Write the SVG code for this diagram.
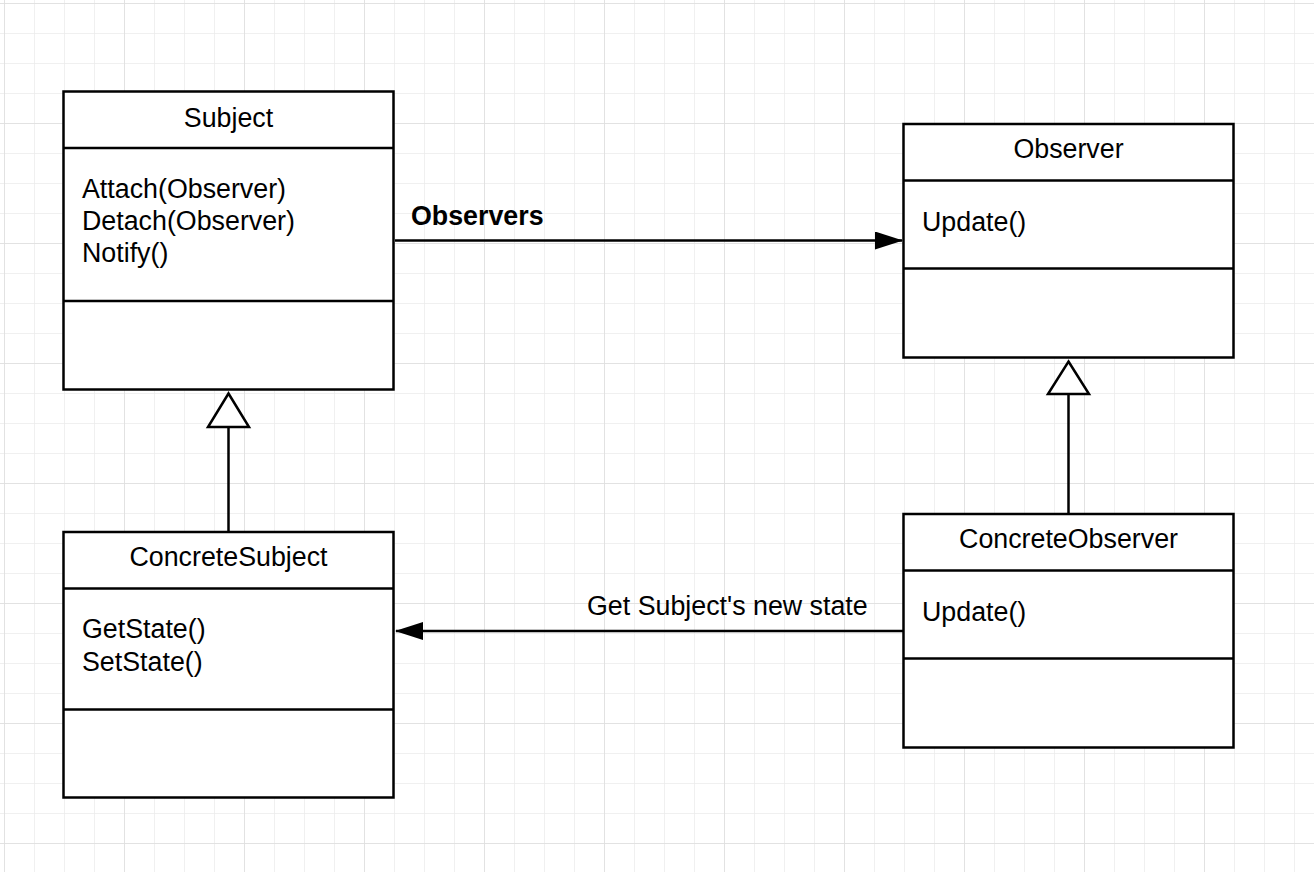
<svg xmlns="http://www.w3.org/2000/svg" width="1314" height="872" viewBox="0 0 1314 872">
<defs>
<pattern id="minor" x="4" y="3" width="30" height="30" patternUnits="userSpaceOnUse">
<path d="M0 0H30M0 0V30" fill="none" stroke="#ebebeb" stroke-width="1.5"/>
</pattern>
<pattern id="major" x="4" y="3" width="120" height="120" patternUnits="userSpaceOnUse">
<path d="M0 0H120M0 0V120" fill="none" stroke="#dedede" stroke-width="1.5"/>
</pattern>
<marker id="filled" viewBox="0 0 28 18" refX="27" refY="9" markerWidth="28" markerHeight="18" markerUnits="userSpaceOnUse" orient="auto">
<path d="M0 0L28 9L0 18Z" fill="#000"/>
</marker>
</defs>
<style>
.box{fill:#fff;stroke:#000;stroke-width:2.5}
.div{stroke:#000;stroke-width:2.5}
.t{font-family:"Liberation Sans",Arial,sans-serif;font-size:26.8px;fill:#000}
.c{text-anchor:middle}
.b{font-weight:bold}
.ln{fill:none;stroke:#000;stroke-width:2.5}
.tri{fill:#fff;stroke:#000;stroke-width:2.5}
</style>
<rect width="1314" height="872" fill="#fff"/>
<rect width="1314" height="872" fill="url(#minor)"/>
<rect width="1314" height="872" fill="url(#major)"/>

<g id="Subject">
<rect class="box" x="63.5" y="91.5" width="330" height="298"/>
<line class="div" x1="63.5" y1="148" x2="393.5" y2="148"/>
<line class="div" x1="63.5" y1="301" x2="393.5" y2="301"/>
<text class="t c" x="228.5" y="126.5">Subject</text>
<text class="t" x="82" y="198">Attach(Observer)</text>
<text class="t" x="82" y="230">Detach(Observer)</text>
<text class="t" x="82" y="262">Notify()</text>
</g>

<g id="Observer">
<rect class="box" x="903.5" y="124" width="330" height="233.5"/>
<line class="div" x1="903.5" y1="180.5" x2="1233.5" y2="180.5"/>
<line class="div" x1="903.5" y1="268.5" x2="1233.5" y2="268.5"/>
<text class="t c" x="1068.5" y="158">Observer</text>
<text class="t" x="922" y="231">Update()</text>
</g>

<g id="ConcreteSubject">
<rect class="box" x="63.5" y="532" width="330" height="265.5"/>
<line class="div" x1="63.5" y1="588.5" x2="393.5" y2="588.5"/>
<line class="div" x1="63.5" y1="709.5" x2="393.5" y2="709.5"/>
<text class="t c" x="228.5" y="566">ConcreteSubject</text>
<text class="t" x="82" y="638">GetState()</text>
<text class="t" x="82" y="671">SetState()</text>
</g>

<g id="ConcreteObserver">
<rect class="box" x="903.5" y="514" width="330" height="233.5"/>
<line class="div" x1="903.5" y1="570.5" x2="1233.5" y2="570.5"/>
<line class="div" x1="903.5" y1="658.5" x2="1233.5" y2="658.5"/>
<text class="t c" x="1068.5" y="548">ConcreteObserver</text>
<text class="t" x="922" y="621">Update()</text>
</g>

<g id="connectors">
<line class="ln" x1="395" y1="240.5" x2="902" y2="240.5" marker-end="url(#filled)"/>
<text class="t b" x="411" y="225">Observers</text>
<line class="ln" x1="903" y1="631" x2="396" y2="631" marker-end="url(#filled)"/>
<text class="t" x="587" y="615">Get Subject's new state</text>
<line class="ln" x1="228.5" y1="532" x2="228.5" y2="427"/>
<path class="tri" d="M228.5 393.5L249 427H208Z"/>
<line class="ln" x1="1068.5" y1="514" x2="1068.5" y2="393.5"/>
<path class="tri" d="M1068.5 361.5L1089 394H1048Z"/>
</g>
</svg>
